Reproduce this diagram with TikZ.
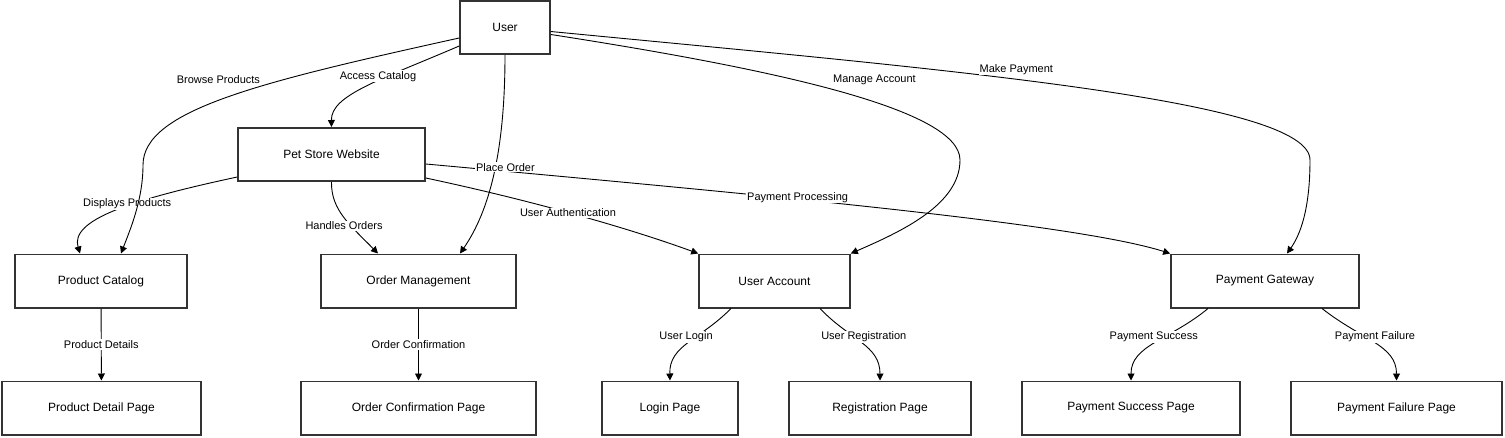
\documentclass[tikz,border=0pt]{standalone}
\usepackage{fontspec}
\setmainfont{Liberation Sans}
\usetikzlibrary{arrows.meta}

\begin{document}
\begin{tikzpicture}[x=1pt,y=-1pt,>={Triangle[length=7pt,width=7pt]},
	box/.style={draw=black!80,line width=1.6pt,fill=white,inner sep=0pt,minimum height=53.4pt,font=\fontsize{12}{14}\selectfont},
	lbl/.style={fill=white,inner sep=1pt,font=\fontsize{11}{13}\selectfont},
	conn/.style={->,line width=0.9pt}
	]
	\useasboundingbox (0,0) rectangle (1505,437);

	\node[box,minimum width=90pt] (user) at (505,27.5) {User};
	\node[box,minimum width=187pt] (site) at (331.5,154.5) {Pet Store Website};

	\node[box,minimum width=172pt] (catalog) at (101,281) {Product Catalog};
	\node[box,minimum width=195pt] (orders) at (418.5,281) {Order Management};
	\node[box,minimum width=151pt] (account) at (774.5,281) {User Account};
	\node[box,minimum width=188pt] (gateway) at (1265,281) {Payment Gateway};

	\node[box,minimum width=199pt] (detail) at (101.5,408) {Product Detail Page};
	\node[box,minimum width=235pt] (confirm) at (418.5,408) {Order Confirmation Page};
	\node[box,minimum width=136pt] (login) at (670,408) {Login Page};
	\node[box,minimum width=182pt] (register) at (880,408) {Registration Page};
	\node[box,minimum width=218pt] (success) at (1131,408) {Payment Success Page};
	\node[box,minimum width=211pt] (failure) at (1396.5,408) {Payment Failure Page};

	% edges leaving the website
	\draw[conn] ([yshift=-22.5pt]site.west) .. controls (130,200) and (70,220) .. node[lbl,pos=0.45,xshift=4pt,yshift=4pt]{Displays Products} ([xshift=-21pt]catalog.north);
	\draw[conn] (site.south) .. controls (331,210) and (350,225) .. node[lbl,pos=0.5,yshift=-8pt]{Handles Orders} ([xshift=-40.5pt]orders.north);
	\draw[conn] ([yshift=-23.5pt]site.east) .. controls (520,198) and (620,225) .. node[lbl,pos=0.5]{User Authentication} (account.north west);
	\draw[conn] ([yshift=-9.5pt]site.east) .. controls (800,198) and (1080,225) .. node[lbl,pos=0.37,yshift=2pt]{Payment Processing} (gateway.north west);

	% edges leaving the user
	\draw[conn] ([yshift=-10.5pt]user.west) .. controls (260,82) and (143,110) .. (143,165) node[lbl,pos=0.5,xshift=-8pt,yshift=18pt]{Browse Products}
		.. controls (143,200) and (130,230) .. ([xshift=20pt]catalog.north);
	\draw[conn] ([yshift=-18.5pt]user.west) .. controls (380,80) and (331,95) .. node[lbl,pos=0.35,xshift=-10pt]{Access Catalog} (site.north);
	\draw[conn] (user.south) .. controls (505,150) and (490,210) .. node[lbl,pos=0.45,xshift=9.5pt,yshift=-3.5pt]{Place Order} ([xshift=41.5pt]orders.north);
	\draw[conn] ([yshift=-7pt]user.east) .. controls (780,70) and (960,110) .. (960,160) node[lbl,pos=0.58,yshift=22pt]{Manage Account}
		.. controls (960,205) and (900,232) .. (account.north east);
	\draw[conn] ([yshift=-4pt]user.east) .. controls (950,70) and (1310,100) .. (1310,160) node[lbl,pos=0.42,xshift=7pt,yshift=9pt]{Make Payment}
		.. controls (1310,210) and (1300,235) .. ([xshift=22pt]gateway.north);

	% pages
	\draw[conn] (catalog) -- node[lbl]{Product Details} (detail);
	\draw[conn] (orders) -- node[lbl]{Order Confirmation} (confirm);
	\draw[conn] ([xshift=-43.5pt]account.south) .. controls (700,340) and (669,345) .. node[lbl,pos=0.45,xshift=-6pt,yshift=3pt]{User Login} (login.north);
	\draw[conn] ([xshift=45.5pt]account.south) .. controls (850,340) and (880,345) .. node[lbl,pos=0.45,xshift=6pt,yshift=3pt]{User Registration} (register.north);
	\draw[conn] ([xshift=-57pt]gateway.south) .. controls (1170,340) and (1131,345) .. node[lbl,pos=0.45,xshift=-6pt,yshift=3pt]{Payment Success} (success.north);
	\draw[conn] ([xshift=57pt]gateway.south) .. controls (1362,340) and (1396.5,345) .. node[lbl,pos=0.45,xshift=5pt,yshift=3pt]{Payment Failure} (failure.north);
\end{tikzpicture}
\end{document}
